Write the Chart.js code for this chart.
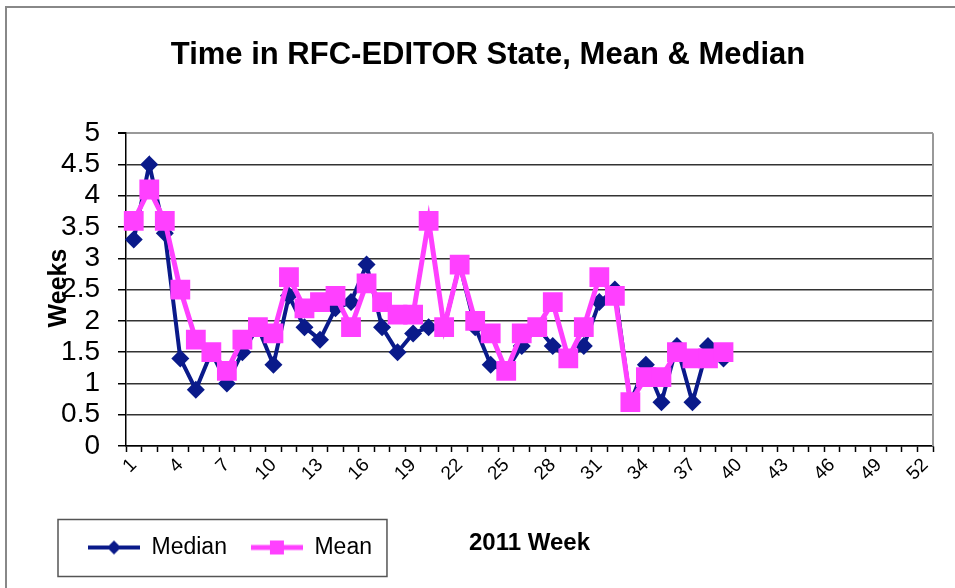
<!DOCTYPE html>
<html>
<head>
<meta charset="utf-8">
<script src="https://cdn.jsdelivr.net/npm/chart.js@4"></script>
<style>
  html, body { margin: 0; padding: 0; background: #fff; }
  #wrap { width: 955px; height: 588px; position: relative; }
</style>
</head>
<body>
<div id="wrap"><canvas id="rfcChart" width="955" height="588"></canvas></div>
<script>
// data (weeks 1..39 have values)
const weeks = [];
for (let w = 1; w <= 52; w++) weeks.push(String(w));

const medianWeeks = [3.3, 4.5, 3.4, 1.4, 0.9, 1.5, 1.0, 1.5, 1.9, 1.3,
    2.4, 1.9, 1.7, 2.2, 2.3, 2.9, 1.9, 1.5, 1.8, 1.9,
    1.9, 2.9, 1.9, 1.3, 1.2, 1.6, 1.9, 1.6, 1.4, 1.6,
    2.3, 2.5, 0.7, 1.3, 0.7, 1.6, 0.7, 1.6, 1.4];
const meanWeeks = [3.6, 4.1, 3.6, 2.5, 1.7, 1.5, 1.2, 1.7, 1.9, 1.8,
    2.7, 2.2, 2.3, 2.4, 1.9, 2.6, 2.3, 2.1, 2.1, 3.6,
    1.9, 2.9, 2.0, 1.8, 1.2, 1.8, 1.9, 2.3, 1.4, 1.9,
    2.7, 2.4, 0.7, 1.1, 1.1, 1.5, 1.4, 1.4, 1.5];

const NAVY = '#0a1a8a';
const PINK = '#ff40ff';
const FONT = "'Liberation Sans', Arial, sans-serif";

Chart.defaults.font.family = FONT;
Chart.defaults.color = '#000';

// legend icon: line with the marker in the middle
function makeIcon(color, lineW, shape) {
    const c = document.createElement('canvas');
    c.width = 52; c.height = 22;
    const g = c.getContext('2d');
    g.strokeStyle = color;
    g.lineWidth = lineW;
    g.beginPath(); g.moveTo(0, 11); g.lineTo(52, 11); g.stroke();
    g.fillStyle = color;
    g.beginPath();
    if (shape === 'diamond') {
        g.moveTo(26, 4); g.lineTo(33, 11); g.lineTo(26, 18); g.lineTo(19, 11);
    } else {
        g.rect(19, 4, 14, 14);
    }
    g.closePath(); g.fill();
    return c;
}
const legendIcons = [makeIcon(NAVY, 4, 'diamond'), makeIcon(PINK, 5, 'square')];

// frame, plot border, axis titles and legend box
const extrasPlugin = {
    id: 'extras',
    afterLayout(chart) {
        // legend sits further right than the layout padding
        chart.legend.left += 21;
        chart.legend.right += 21;
    },
    beforeDraw(chart) {
        const ctx = chart.ctx;
        ctx.save();
        ctx.strokeStyle = '#888';
        ctx.lineWidth = 2;
        ctx.strokeRect(6, 7, 1000, 1000);
        ctx.restore();
    },
    afterDatasetsDraw(chart) {
        const ctx = chart.ctx;
        const a = chart.chartArea;
        ctx.save();
        ctx.strokeStyle = '#999';
        ctx.lineWidth = 2;
        ctx.beginPath();
        ctx.moveTo(a.right, a.top);
        ctx.lineTo(a.right, a.bottom);
        ctx.stroke();
        ctx.restore();
    },
    afterDraw(chart) {
        const ctx = chart.ctx;
        const a = chart.chartArea;
        ctx.save();
        ctx.fillStyle = '#000';
        ctx.textAlign = 'center';
        ctx.textBaseline = 'middle';
        // y title
        ctx.font = 'bold 25px ' + FONT;
        ctx.translate(59, 288);
        ctx.rotate(-Math.PI / 2);
        ctx.fillText('Weeks', 0, 0);
        ctx.setTransform(1, 0, 0, 1, 0, 0);
        // x title
        ctx.font = 'bold 24px ' + FONT;
        ctx.fillText('2011 Week', (a.left + a.right) / 2, 543);
        // legend box
        const hb = chart.legend.legendHitBoxes;
        if (hb && hb.length) {
            const first = hb[0], last = hb[hb.length - 1];
            const x0 = first.left - 30;
            const x1 = last.left + last.width + 15;
            const cy = first.top + first.height / 2;
            ctx.strokeStyle = '#555';
            ctx.lineWidth = 1.5;
            ctx.strokeRect(x0, cy - 28, x1 - x0, 57);
        }
        ctx.restore();
    }
};

new Chart(document.getElementById('rfcChart'), {
    type: 'line',
    data: {
        labels: weeks,
        datasets: [{
            label: 'Median',
            data: medianWeeks,
            borderColor: NAVY,
            backgroundColor: NAVY,
            borderWidth: 4,
            pointStyle: 'rectRot',
            pointRadius: 9,
            pointBorderWidth: 0,
            tension: 0,
            order: 2
        }, {
            label: 'Mean',
            data: meanWeeks,
            borderColor: PINK,
            backgroundColor: PINK,
            borderWidth: 5,
            pointStyle: 'rect',
            pointRadius: 14,
            pointBorderWidth: 0,
            tension: 0,
            order: 1
        }]
    },
    options: {
        responsive: false,
        animation: false,
        layout: { padding: { left: 43, right: 22, top: 0, bottom: 19 } },
        plugins: {
            title: {
                display: true,
                text: 'Time in RFC-EDITOR State, Mean & Median',
                font: { size: 31, weight: 'bold' },
                color: '#000',
                padding: { top: 37, bottom: 59 }
            },
            legend: {
                position: 'bottom',
                align: 'start',
                labels: {
                    usePointStyle: true,
                    pointStyleWidth: 52,
                    padding: 24,
                    font: { size: 23 },
                    color: '#000',
                    sort: (a, b) => a.datasetIndex - b.datasetIndex,
                    generateLabels(chart) {
                        const items = Chart.defaults.plugins.legend.labels.generateLabels(chart);
                        items.forEach(it => { it.pointStyle = legendIcons[it.datasetIndex]; });
                        return items;
                    }
                }
            },
            tooltip: { enabled: false }
        },
        scales: {
            x: {
                offset: true,
                grid: {
                    offset: true,
                    drawOnChartArea: false,
                    drawTicks: true,
                    tickLength: 6,
                    tickColor: '#000',
                    tickWidth: 1.5
                },
                border: { color: '#000', width: 1.5 },
                ticks: {
                    autoSkip: false,
                    maxRotation: 45,
                    minRotation: 45,
                    padding: 2,
                    font: { size: 19 },
                    callback(value, index) {
                        return index % 3 === 0 ? weeks[index] : '';
                    }
                },
                afterFit(scale) { scale.height = 66; }
            },
            y: {
                min: 0,
                max: 5,
                grid: {
                    color: ctx => (ctx.tick && ctx.tick.value === 5) ? '#999' : '#333',
                    lineWidth: ctx => (ctx.tick && ctx.tick.value === 5) ? 2 : 1.5,
                    tickLength: 8,
                    tickColor: '#000'
                },
                border: { color: '#000', width: 1.5 },
                ticks: {
                    stepSize: 0.5,
                    padding: 18,
                    font: { size: 28, lineHeight: 1 },
                    color: '#000',
                    callback: value => String(value)
                },
                afterFit(scale) { scale.width = 83; }
            }
        }
    },
    plugins: [extrasPlugin]
});
</script>
</body>
</html>
